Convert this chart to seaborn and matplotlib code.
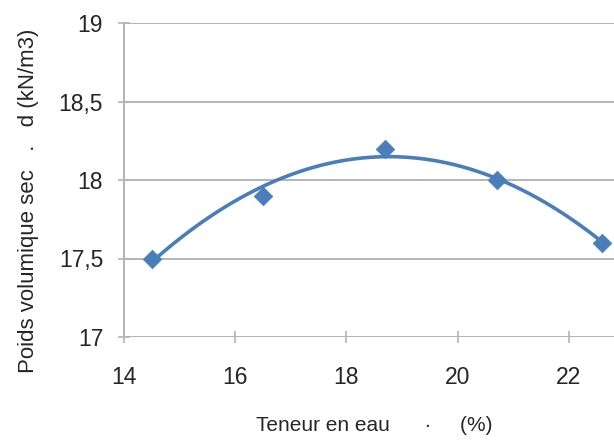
import matplotlib
matplotlib.use("Agg")
import matplotlib.pyplot as plt
import seaborn as sns
import pandas as pd
from matplotlib.ticker import FuncFormatter

teneur = [14.5, 16.5, 18.7, 20.7, 22.6]
poids = [17.5, 17.9, 18.2, 18.0, 17.6]
x_ticks = [14, 16, 18, 20, 22]
y_ticks = [17, 17.5, 18, 18.5, 19]

sns.set_style("white")
plt.rcParams['font.family'] = ['Liberation Sans', 'DejaVu Sans']

df = pd.DataFrame({"teneur": teneur, "poids": poids})

blue = "#4a7ebb"
grid = "#b4b4b4"
txt = "#262626"

fig = plt.figure(figsize=(6.14, 4.41), dpi=100)
ax = fig.add_axes([124/614, (441-337)/441, 1 - 124/614, (337-23)/441])

ax.set_axisbelow(True)
for yt in y_ticks:
    ax.axhline(yt, color=grid, lw=1.4, zorder=0)

sns.regplot(data=df, x="teneur", y="poids", order=2, ci=None, truncate=True,
            marker="D", color=blue, ax=ax,
            scatter_kws=dict(s=90, color=blue, edgecolors=blue, linewidths=0.5, zorder=3, alpha=1),
            line_kws=dict(lw=2.6, color=blue, zorder=2))

ax.set_xlim(14, 22.81)
ax.set_ylim(17, 19)
ax.set_xticks(x_ticks)
ax.set_yticks(y_ticks)
fmt = FuncFormatter(lambda v, p: (f"{v:g}").replace(".", ","))
ax.yaxis.set_major_formatter(fmt)
ax.xaxis.set_major_formatter(fmt)

for s in ["top", "right", "bottom"]:
    ax.spines[s].set_visible(False)
ax.spines["left"].set_color(grid)
ax.spines["left"].set_linewidth(1.4)

ax.tick_params(axis="both", which="major", direction="inout", length=8, width=1.2,
               color=grid, labelsize=16.5, labelcolor=txt)
ax.tick_params(axis="y", pad=11)
ax.tick_params(axis="x", pad=17)
ax.tick_params(left=True, bottom=True)

ax.set_xlabel("Teneur en eau      \u00b7     (%)", fontsize=15, color=txt)
ax.set_ylabel("Poids volumique sec   .   d (kN/m3)", fontsize=16, color=txt)
ax.xaxis.set_label_coords((374 - 124) / 490, (337 - 416) / 314)
ax.yaxis.set_label_coords((39 - 124) / 490, (337 - 201) / 314)

fig.savefig("out.png", dpi=100)
